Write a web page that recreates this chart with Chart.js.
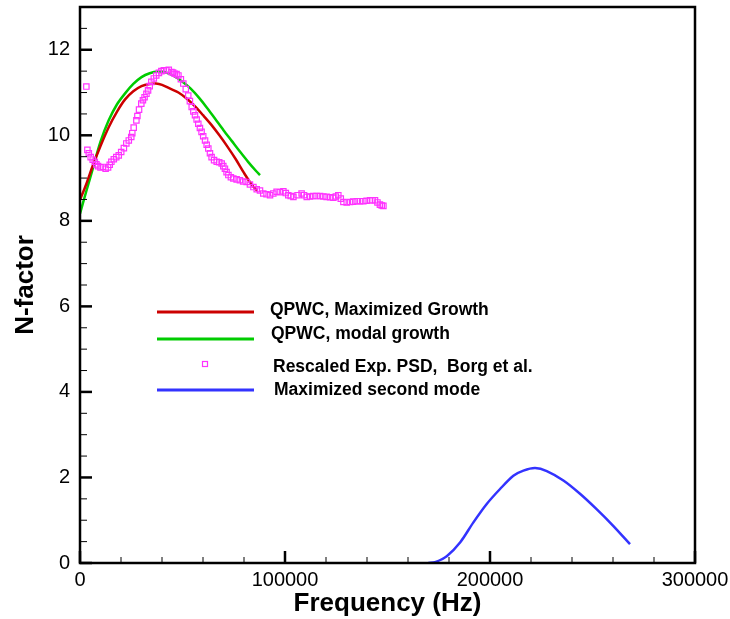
<!DOCTYPE html>
<html>
<head>
<meta charset="utf-8">
<script src="https://cdn.jsdelivr.net/npm/chart.js@4.4.0/dist/chart.umd.min.js"></script>
<style>
  html, body { margin: 0; padding: 0; background: #fff; }
  #wrap { width: 730px; height: 619px; }
</style>
</head>
<body>
<div id="wrap"><canvas id="nChart" width="730" height="619"></canvas></div>
<script>
// axis ticks
const xTicks = [0, 100000, 200000, 300000];
const yTicks = [0, 2, 4, 6, 8, 10, 12];

// QPWC, Maximized Growth
const maxFreq = [0, 3000, 6000, 10000, 14000, 18000, 22000, 26000, 30000, 34000, 37000, 40000, 44000, 48000, 52000, 56000, 60000, 64000, 68000, 72000, 76000, 80000, 84000, 86500];
const maxN = [8.49, 8.85, 9.26, 9.75, 10.19, 10.55, 10.84, 11.03, 11.15, 11.2, 11.21, 11.18, 11.09, 11.0, 10.86, 10.68, 10.47, 10.25, 10.0, 9.73, 9.44, 9.12, 8.83, 8.70];

// QPWC, modal growth
const modalFreq = [0, 3000, 6000, 10000, 14000, 18000, 22000, 26000, 30000, 34000, 38000, 42000, 46000, 50000, 54000, 58000, 62000, 66000, 70000, 74000, 78000, 82000, 86000, 87800];
const modalN = [8.17, 8.68, 9.18, 9.85, 10.35, 10.72, 10.98, 11.2, 11.36, 11.45, 11.49, 11.47, 11.38, 11.25, 11.09, 10.88, 10.64, 10.38, 10.12, 9.87, 9.62, 9.38, 9.16, 9.07];

// Rescaled Exp. PSD, Borg et al.
const expFreq = [3100, 3600, 4300, 5200, 6200, 7200, 8000, 8800, 10000, 11200, 12500, 13700, 14500, 15300, 16500, 17700, 18900, 20100, 21400, 22600, 23800, 25000, 25500, 26200, 27500, 28000, 28800, 29900, 30700, 31500, 32400, 33200, 34000, 34800, 36000, 37200, 38500, 39700, 40900, 42100, 43300, 44600, 45400, 46200, 47100, 48000, 49200, 50400, 51600, 52800, 53600, 54500, 55300, 56100, 56900, 57700, 58500, 59300, 60100, 61000, 61800, 62600, 63400, 64200, 65400, 66700, 67900, 69100, 69900, 70700, 71500, 72400, 73600, 74800, 76400, 78000, 79600, 81300, 82900, 84600, 86200, 87800, 89400, 91000, 92700, 94300, 95900, 97500, 99200, 100400, 101600, 102800, 104100, 106100, 108100, 109300, 110600, 112200, 113800, 115400, 117100, 118700, 120300, 122000, 123600, 124800, 126000, 127200, 128500, 130100, 131700, 133300, 135000, 136600, 138200, 139800, 141500, 142700, 143900, 145100, 146300, 147200, 148000];
const expN = [11.14, 9.66, 9.58, 9.49, 9.43, 9.38, 9.32, 9.28, 9.25, 9.26, 9.22, 9.25, 9.31, 9.38, 9.44, 9.49, 9.53, 9.61, 9.70, 9.81, 9.88, 9.96, 10.05, 10.18, 10.35, 10.45, 10.60, 10.74, 10.82, 10.89, 10.97, 11.05, 11.15, 11.25, 11.33, 11.40, 11.46, 11.50, 11.52, 11.52, 11.53, 11.48, 11.47, 11.44, 11.43, 11.40, 11.31, 11.21, 11.08, 10.93, 10.80, 10.66, 10.56, 10.47, 10.37, 10.27, 10.17, 10.08, 9.98, 9.88, 9.78, 9.69, 9.58, 9.49, 9.42, 9.38, 9.37, 9.34, 9.28, 9.22, 9.14, 9.07, 9.02, 8.99, 8.97, 8.95, 8.92, 8.91, 8.85, 8.79, 8.74, 8.71, 8.64, 8.62, 8.60, 8.64, 8.68, 8.67, 8.69, 8.65, 8.60, 8.58, 8.56, 8.60, 8.64, 8.60, 8.56, 8.57, 8.58, 8.58, 8.58, 8.57, 8.56, 8.55, 8.54, 8.57, 8.60, 8.52, 8.44, 8.43, 8.44, 8.45, 8.46, 8.46, 8.46, 8.47, 8.48, 8.48, 8.48, 8.43, 8.38, 8.36, 8.35];

// Maximized second mode
const secFreq = [169900, 173200, 178900, 185400, 191900, 198400, 204900, 211400, 216300, 222000, 227700, 235800, 243900, 252000, 260100, 268300];
const secN = [0.0, 0.02, 0.16, 0.48, 0.95, 1.38, 1.73, 2.04, 2.16, 2.22, 2.15, 1.93, 1.62, 1.26, 0.87, 0.44];

function pts(xs, ys) {
  return xs.map((v, i) => ({ x: v, y: ys[i] }));
}

const FONT = '"Liberation Sans", Arial, Helvetica, sans-serif';

// inward ticks + frame, like the original plot
const frameTicks = {
  id: 'frameTicks',
  afterDraw(chart) {
    const { ctx, chartArea: a, scales: { x, y } } = chart;
    ctx.save();
    ctx.strokeStyle = '#000';
    for (let v = 0; v <= 300000; v += 20000) {
      const px = x.getPixelForValue(v);
      const major = v % 100000 === 0;
      ctx.lineWidth = major ? 2.5 : 1;
      ctx.beginPath();
      ctx.moveTo(px, a.bottom);
      ctx.lineTo(px, a.bottom - (major ? 12 : 6));
      ctx.stroke();
    }
    for (let v = 0; v <= 13; v += 0.5) {
      const py = y.getPixelForValue(v);
      const major = v % 2 === 0;
      ctx.lineWidth = major ? 2.5 : 1;
      ctx.beginPath();
      ctx.moveTo(a.left, py);
      ctx.lineTo(a.left + (major ? 12 : 7), py);
      ctx.stroke();
    }
    ctx.lineWidth = 2.5;
    ctx.strokeRect(a.left, a.top, a.right - a.left, a.bottom - a.top);
    ctx.restore();
  }
};

// legend drawn inside the plot area
const innerLegend = {
  id: 'innerLegend',
  afterDraw(chart) {
    const { ctx } = chart;
    const rows = [
      { lineY: 312, textY: 310, textX: 270 },
      { lineY: 339, textY: 334, textX: 271 },
      { lineY: 364, textY: 367, textX: 273 },
      { lineY: 390, textY: 390, textX: 274 }
    ];
    ctx.save();
    ctx.font = 'bold 17.5px ' + FONT;
    ctx.textBaseline = 'middle';
    ctx.fillStyle = '#000';
    chart.data.datasets.forEach((ds, i) => {
      const r = rows[i];
      ctx.strokeStyle = ds.borderColor;
      if (ds.showLine === false) {
        ctx.lineWidth = 1.2;
        ctx.strokeRect(202.5, r.lineY - 2.5, 5, 5);
      } else {
        ctx.lineWidth = 3;
        ctx.beginPath();
        ctx.moveTo(157, r.lineY);
        ctx.lineTo(254, r.lineY);
        ctx.stroke();
      }
      ctx.fillText(ds.label, r.textX, r.textY);
    });
    ctx.restore();
  }
};

new Chart(document.getElementById('nChart'), {
  type: 'scatter',
  data: {
    datasets: [
      {
        label: 'QPWC, Maximized Growth',
        data: pts(maxFreq, maxN),
        showLine: true,
        borderColor: '#cc0000',
        borderWidth: 2.5,
        pointRadius: 0,
        tension: 0.3,
        order: 2
      },
      {
        label: 'QPWC, modal growth',
        data: pts(modalFreq, modalN),
        showLine: true,
        borderColor: '#00cc00',
        borderWidth: 2.5,
        pointRadius: 0,
        tension: 0.3,
        order: 3
      },
      {
        label: 'Rescaled Exp. PSD,  Borg et al.',
        data: pts(expFreq, expN),
        showLine: false,
        borderColor: '#ff33ff',
        backgroundColor: 'rgba(0,0,0,0)',
        pointStyle: 'rect',
        pointRadius: 3.8,
        pointBorderWidth: 1.2,
        order: 1
      },
      {
        label: 'Maximized second mode',
        data: pts(secFreq, secN),
        showLine: true,
        borderColor: '#3333ff',
        borderWidth: 2.5,
        pointRadius: 0,
        tension: 0.3,
        order: 4
      }
    ]
  },
  options: {
    responsive: false,
    animation: false,
    layout: { padding: { top: 7, right: 35, left: 0, bottom: 0 } },
    plugins: {
      legend: { display: false },
      tooltip: { enabled: false }
    },
    scales: {
      x: {
        type: 'linear',
        min: 0,
        max: 300000,
        afterBuildTicks: s => { s.ticks = xTicks.map(v => ({ value: v })); },
        afterFit: s => { s.height = 56; s.paddingLeft = 0; s.paddingRight = 0; },
        grid: { display: false, drawTicks: false },
        border: { display: false },
        ticks: {
          padding: 5,
          color: '#000',
          font: { family: FONT, size: 20 },
          maxRotation: 0,
          callback: v => String(v)
        },
        title: {
          display: true,
          text: 'Frequency (Hz)',
          color: '#000',
          font: { family: FONT, size: 26, weight: 'bold' },
          padding: { top: 0, bottom: 0 }
        }
      },
      y: {
        type: 'linear',
        min: 0,
        max: 13,
        afterBuildTicks: s => { s.ticks = yTicks.map(v => ({ value: v })); },
        afterFit: s => { s.width = 80; s.paddingTop = 0; s.paddingBottom = 0; },
        grid: { display: false, drawTicks: false },
        border: { display: false },
        ticks: {
          padding: 10,
          color: '#000',
          font: { family: FONT, size: 20 }
        },
        title: {
          display: true,
          text: 'N-factor',
          color: '#000',
          font: { family: FONT, size: 26, weight: 'bold' },
          padding: { top: 10, bottom: 0 }
        }
      }
    }
  },
  plugins: [frameTicks, innerLegend]
});
</script>
</body>
</html>
